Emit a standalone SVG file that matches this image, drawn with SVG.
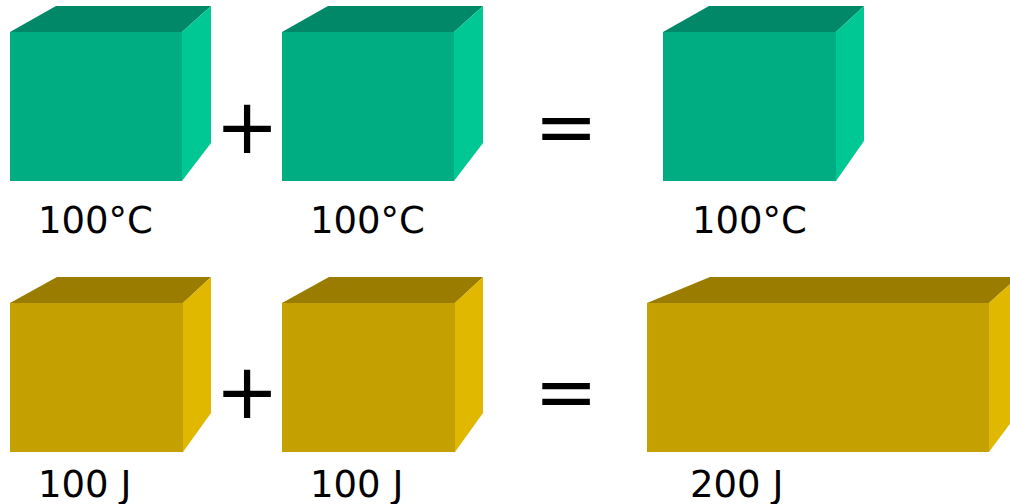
<svg xmlns="http://www.w3.org/2000/svg" width="1010" height="504" viewBox="0 0 1010 504">
<style>
.gf{fill:#00AC82}.gt{fill:#008868}.gr{fill:#00C894}
.yf{fill:#C4A000}.yt{fill:#9A7C00}.yr{fill:#E0B800}
.lbl{font-family:"DejaVu Sans",Verdana,sans-serif;font-size:37px;fill:#000}
.op{font-family:"DejaVu Sans",Verdana,sans-serif;font-size:76px;fill:#000;text-anchor:middle}
</style>
<rect width="1010" height="504" fill="#fff"/>
<g id="cube-g1">
<polygon class="gt" points="10,32 56,6 211,6 182,32"/>
<polygon class="gr" points="182,32 211,6 211,143 182,181"/>
<rect class="gf" x="10" y="32" width="172" height="149"/>
</g>
<g id="cube-g2">
<polygon class="gt" points="282,32 328,6 483,6 454,32"/>
<polygon class="gr" points="454,32 483,6 483,143 454,181"/>
<rect class="gf" x="282" y="32" width="172" height="149"/>
</g>
<g id="cube-g3">
<polygon class="gt" points="663,32 709,6 864,6 836,32"/>
<polygon class="gr" points="836,32 864,6 864,141 836,181"/>
<rect class="gf" x="663" y="32" width="173" height="149"/>
</g>
<g id="cube-y1">
<polygon class="yt" points="10,303 57,277 211,277 183,303"/>
<polygon class="yr" points="183,303 211,277 211,413 183,452"/>
<rect class="yf" x="10" y="303" width="173" height="149"/>
</g>
<g id="cube-y2">
<polygon class="yt" points="282,303 329,277 483,277 455,303"/>
<polygon class="yr" points="455,303 483,277 483,413 455,452"/>
<rect class="yf" x="282" y="303" width="173" height="149"/>
</g>
<g id="cube-y3">
<polygon class="yt" points="647,303 710,277 1018,277 989,303"/>
<polygon class="yr" points="989,303 1018,277 1018,413 989,452"/>
<rect class="yf" x="647" y="303" width="342" height="149"/>
</g>
<g id="labels">
<text class="lbl" x="38" y="233">100°C</text>
<text class="lbl" x="310" y="233">100°C</text>
<text class="lbl" x="692" y="233">100°C</text>
<text class="lbl" x="38" y="497">100 J</text>
<text class="lbl" x="310" y="497">100 J</text>
<text class="lbl" x="690" y="497">200 J</text>
</g>
<g id="operators">
<text class="op" x="247" y="153">+</text>
<text class="op" x="566" y="153">=</text>
<text class="op" x="247" y="418">+</text>
<text class="op" x="566" y="418">=</text>
</g>
</svg>
